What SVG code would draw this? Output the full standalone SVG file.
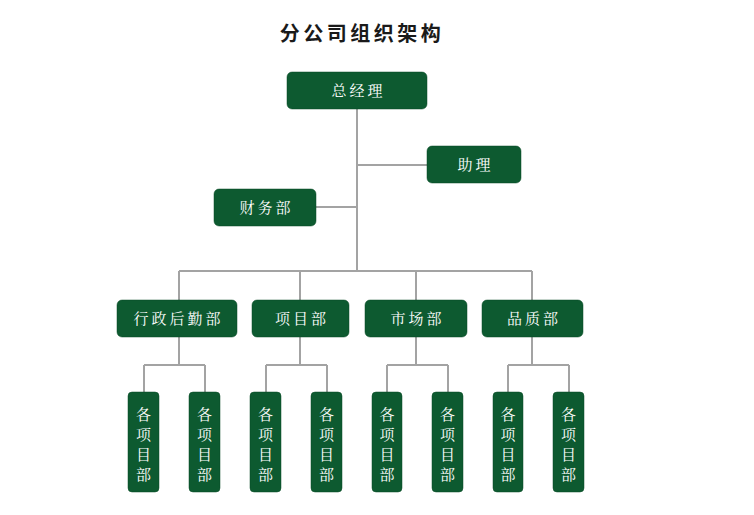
<svg xmlns="http://www.w3.org/2000/svg" width="754" height="515" viewBox="0 0 754 515">
<style>
.n{fill:#0d5a30;stroke:#0a4a27;stroke-width:0.5}
.t{fill:#fff;font-family:"Noto Serif CJK SC","Noto Sans CJK SC",serif;font-size:15px;text-anchor:middle;letter-spacing:3px}
.v{fill:#fff;font-family:"Noto Serif CJK SC","Noto Sans CJK SC",serif;font-size:15px;text-anchor:middle}
.c{stroke:#a3a3a3;stroke-width:2;fill:none}
</style>
<rect width="754" height="515" fill="#fff"/>
<text x="362" y="41" font-family="'Noto Sans CJK SC',sans-serif" font-weight="bold" font-size="20" text-anchor="middle" letter-spacing="3.5" fill="#1a1a1a">分公司组织架构</text>
<g id="connectors" class="c">
<path d="M357 109V271M357 165H427M316 207H357M179 271H532M179 271V300M300 271V300M416 271V300M532 271V300"/>
<path d="M179 337V365M144 365H205M144 365V392M205 365V392"/>
<path d="M300 337V365M266 365H327M266 365V392M327 365V392"/>
<path d="M416 337V365M387 365H448M387 365V392M448 365V392"/>
<path d="M532 337V365M508 365H569M508 365V392M569 365V392"/>
</g>
<g id="gm"><rect class="n" x="287" y="72" width="140" height="37" rx="5"/><text class="t" x="358.5" y="96">总经理</text></g>
<g id="assistant"><rect class="n" x="427" y="146" width="94" height="37" rx="5"/><text class="t" x="475.5" y="170">助理</text></g>
<g id="finance"><rect class="n" x="214" y="189" width="102" height="37" rx="5"/><text class="t" x="266.5" y="213">财务部</text></g>
<g id="admin"><rect class="n" x="117" y="300" width="120" height="37" rx="5"/><text class="t" x="178.5" y="324">行政后勤部</text></g>
<g id="project"><rect class="n" x="252" y="300" width="97" height="37" rx="5"/><text class="t" x="302" y="324">项目部</text></g>
<g id="market"><rect class="n" x="365" y="300" width="102" height="37" rx="5"/><text class="t" x="417.5" y="324">市场部</text></g>
<g id="quality"><rect class="n" x="482" y="300" width="101" height="37" rx="5"/><text class="t" x="534" y="324">品质部</text></g>
<g id="p1"><rect class="n" x="128" y="392" width="31" height="100" rx="4"/><text class="v" x="143.5" y="420">各</text><text class="v" x="143.5" y="440">项</text><text class="v" x="143.5" y="460">目</text><text class="v" x="143.5" y="480">部</text></g>
<g id="p2"><rect class="n" x="189" y="392" width="31" height="100" rx="4"/><text class="v" x="204.5" y="420">各</text><text class="v" x="204.5" y="440">项</text><text class="v" x="204.5" y="460">目</text><text class="v" x="204.5" y="480">部</text></g>
<g id="p3"><rect class="n" x="250" y="392" width="31" height="100" rx="4"/><text class="v" x="265.5" y="420">各</text><text class="v" x="265.5" y="440">项</text><text class="v" x="265.5" y="460">目</text><text class="v" x="265.5" y="480">部</text></g>
<g id="p4"><rect class="n" x="311" y="392" width="31" height="100" rx="4"/><text class="v" x="326.5" y="420">各</text><text class="v" x="326.5" y="440">项</text><text class="v" x="326.5" y="460">目</text><text class="v" x="326.5" y="480">部</text></g>
<g id="p5"><rect class="n" x="372" y="392" width="30" height="100" rx="4"/><text class="v" x="387" y="420">各</text><text class="v" x="387" y="440">项</text><text class="v" x="387" y="460">目</text><text class="v" x="387" y="480">部</text></g>
<g id="p6"><rect class="n" x="432" y="392" width="31" height="100" rx="4"/><text class="v" x="447.5" y="420">各</text><text class="v" x="447.5" y="440">项</text><text class="v" x="447.5" y="460">目</text><text class="v" x="447.5" y="480">部</text></g>
<g id="p7"><rect class="n" x="493" y="392" width="30" height="100" rx="4"/><text class="v" x="508" y="420">各</text><text class="v" x="508" y="440">项</text><text class="v" x="508" y="460">目</text><text class="v" x="508" y="480">部</text></g>
<g id="p8"><rect class="n" x="553" y="392" width="31" height="100" rx="4"/><text class="v" x="568.5" y="420">各</text><text class="v" x="568.5" y="440">项</text><text class="v" x="568.5" y="460">目</text><text class="v" x="568.5" y="480">部</text></g>
</svg>
